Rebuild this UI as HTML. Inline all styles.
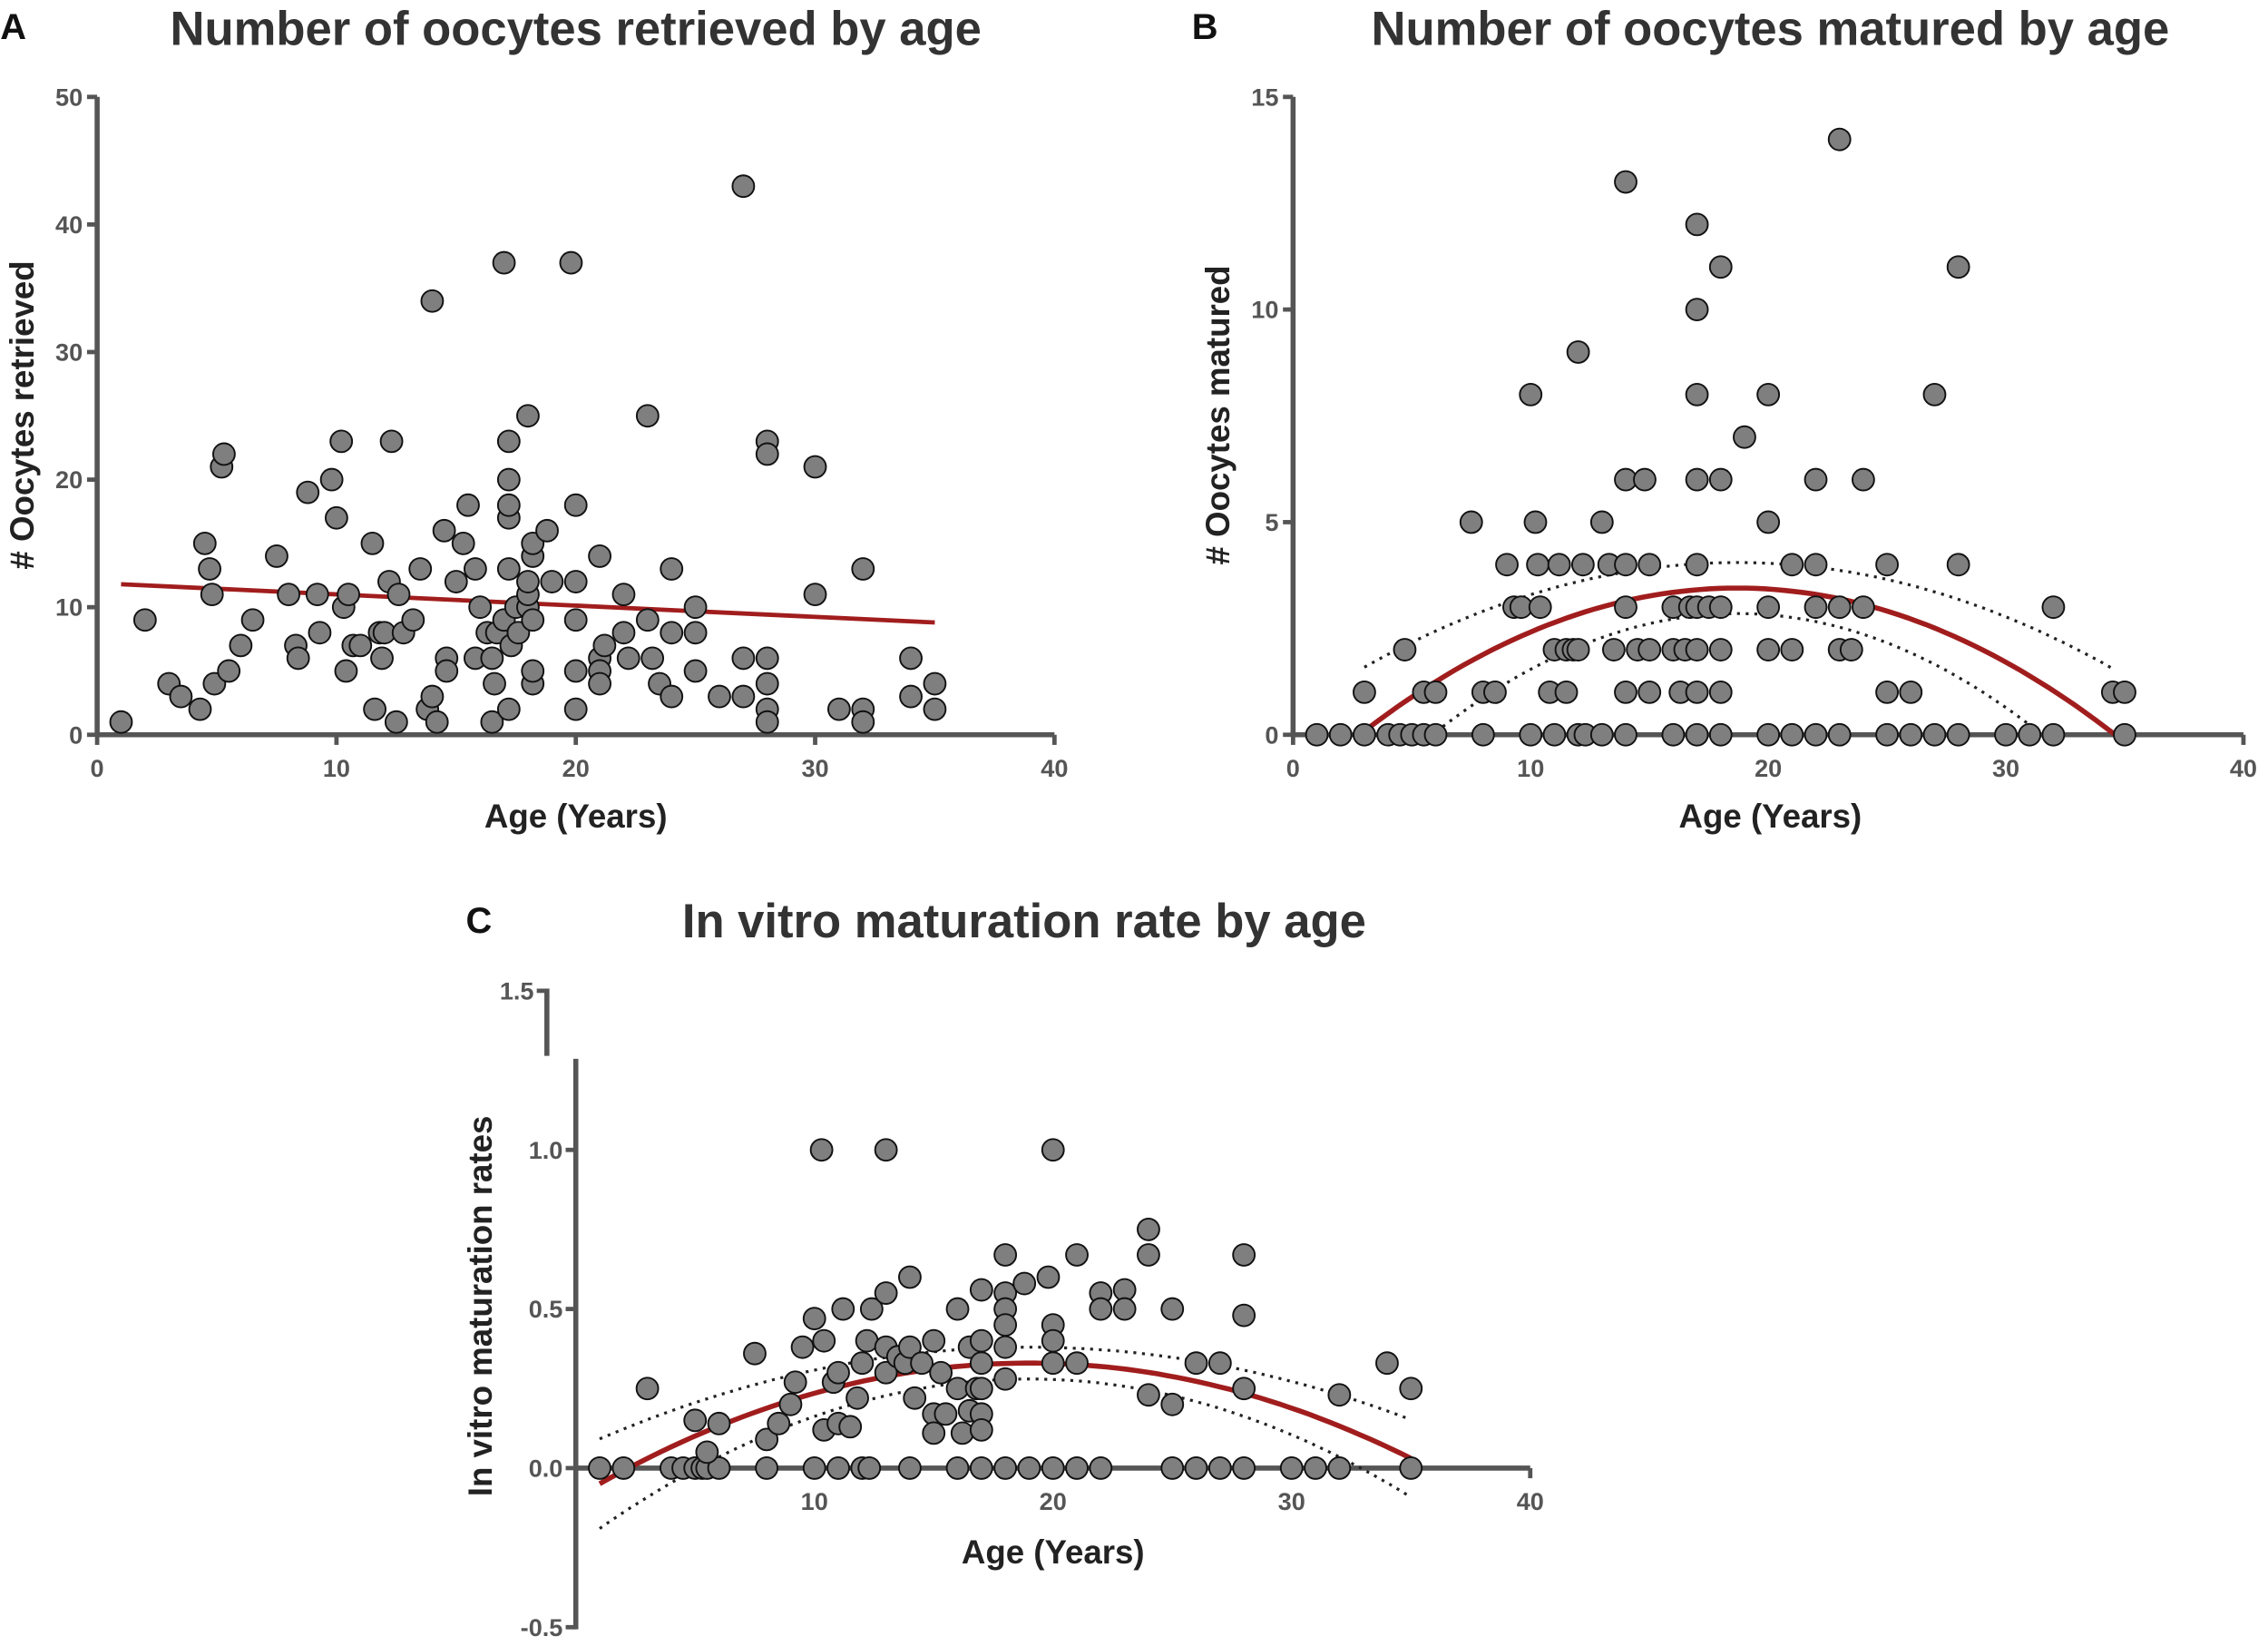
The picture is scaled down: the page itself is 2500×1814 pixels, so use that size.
<!DOCTYPE html>
<html><head><meta charset="utf-8"><style>
html,body{margin:0;padding:0;background:#fff;}
svg{display:block;font-family:"Liberation Sans",sans-serif;}
.tick{font-size:17px;font-weight:bold;fill:#555;}
.title{font-size:33px;font-weight:bold;fill:#333;}
.lab{font-size:23px;font-weight:bold;fill:#222;}
.letter{font-size:25px;font-weight:bold;fill:#111;}
</style></head><body>
<svg id="chart" width="2500" height="1814" viewBox="0 0 1568 1138" xmlns="http://www.w3.org/2000/svg">
<rect width="1568" height="1138" fill="#fff"/>
<g id="A"></g><g id="B"></g><g id="C"></g>
</svg>
<script>
// Panel A data
const ageA=[1,2,3,3.5,4.3,4.5,4.7,4.8,4.9,5.2,5.3,5.5,6,6.5,7.5,8,8.3,8.4,8.8,9.2,9.3,9.8,10,10.2,10.3,10.4,10.5,10.7,11,11.5,11.6,11.8,11.9,12,12.2,12.3,12.5,12.6,12.8,13.2,13.5,13.8,14,14.2,14,14.5,14.6,14.6,15,15.3,15.5,15.8,15.8,16,16.3,16.5,16.5,16.6,16.7,17,17.2,17.2,17.2,17.2,17,17.2,17.3,17.2,17.5,17.6,18,18,18,18.2,18,18.2,18.2,18.2,18.2,18.8,19,19.8,20,20,20,20,20,21,21,21,21.2,21,22,22,22.2,23,23,23.2,23.5,24,24,24,25,25,25,26,27,27,27,28,28,28,28,28,28,30,30,31,32,32,32,34,34,35,35];
const retrieved=[1,9,4,3,2,15,13,11,4,21,22,5,7,9,14,11,7,6,19,11,8,20,17,23,10,5,11,7,7,15,2,8,6,8,12,23,1,11,8,9,13,2,3,1,34,16,6,5,12,15,18,6,13,10,8,6,1,4,8,9,17,18,20,23,37,2,7,13,10,8,10,11,12,14,25,9,15,4,5,16,12,37,18,12,9,5,2,14,6,5,7,4,11,8,6,25,9,6,4,13,8,3,10,8,5,3,43,6,3,23,22,6,4,2,1,21,11,2,13,2,1,6,3,4,2];
const trendA=[[1,11.8],[35,8.8]];
// Panel B data
const ageB=[1,2,3,4,4.5,5,5.5,6,8,10,11,12,12.3,13,14,16,17,18,20,21,22,23,25,26,27,28,30,31,32,35,
3,4.7,5.5,6,7.5,8,8.5,9,9.3,9.6,10,10.2,10.3,10.4,10.8,11,11.2,11.5,11.5,11.8,12,12,12.2,13,13.3,13.5,14,14,14,14,14,14.5,14.8,15,15,15,16,16,16.3,16.5,16.7,17,17,17,17,17,17,17,17,17.5,18,18,18,18,18,19,20,20,20,20,21,21,22,22,22,23,23,23,23.5,24,24,25,25,26,27,28,28,32,34.5,35];
const matured=[0,0,0,0,0,0,0,0,0,0,0,0,0,0,0,0,0,0,0,0,0,0,0,0,0,0,0,0,0,0,
1,2,1,1,5,1,1,4,3,3,8,5,4,3,1,2,4,2,1,2,9,2,4,5,4,2,13,6,4,3,1,2,6,4,1,2,3,2,1,2,3,12,10,8,6,4,3,2,1,3,11,6,3,2,1,7,8,5,3,2,4,2,6,4,3,14,3,2,2,6,3,4,1,1,8,11,4,3,1,1];
const fitB=[3.45,18.7,0.01365];
const ciB=[0.6,0.00366];
// Panel C data
const ageC=[1,2,4,4.5,5,5.3,5.5,6,8,10,11,12,12.3,14,16,17,18,19,20,21,22,25,26,27,28,30,31,32,35,
3,5,5.5,6,7.5,8,8.5,9,9.2,9.5,10,10.3,10.4,10.4,10.8,11,11,11.2,11.5,11.8,12,12.2,12.4,13,13,13,13,13.5,13.8,14,14,14.2,14.5,15,15,15,15.3,15.5,16,16,16.2,16.5,16.5,16.8,17,17,17,17,17,17,18,18,18,18,18,18,18.8,19.8,20,20,20,20,21,21,22,22,23,23,24,24,24,25,25,26,27,28,28,28,32,34,35];
const rate=[0,0,0,0,0,0,0,0,0,0,0,0,0,0,0,0,0,0,0,0,0,0,0,0,0,0,0,0,0,
0.25,0.15,0.05,0.14,0.36,0.09,0.14,0.2,0.27,0.38,0.47,1.0,0.4,0.12,0.27,0.14,0.3,0.5,0.13,0.22,0.33,0.4,0.5,0.3,1.0,0.55,0.38,0.35,0.33,0.6,0.38,0.22,0.33,0.4,0.17,0.11,0.3,0.17,0.5,0.25,0.11,0.38,0.18,0.25,0.56,0.33,0.25,0.17,0.12,0.4,0.67,0.55,0.5,0.45,0.38,0.28,0.58,0.6,1.0,0.45,0.4,0.33,0.67,0.33,0.55,0.5,0.56,0.5,0.75,0.67,0.23,0.5,0.2,0.33,0.33,0.67,0.48,0.25,0.23,0.33,0.25];
const fitC=[0.33,19,0.00117];
const ciC=[0.05,0.00028];
const xTicks=[0,10,20,30,40];
const yTicksA=[0,10,20,30,40,50];
const yTicksB=[0,5,10,15];
const yTicksC=[-0.5,0.0,0.5,1.0,1.5];
const yTickLabC=["-0.5","0.0","0.5","1.0","1.5"];

const NS="http://www.w3.org/2000/svg";
function mk(p,tag,attrs,txt){const e=document.createElementNS(NS,tag);for(const k in attrs)e.setAttribute(k,attrs[k]);if(txt!==undefined)e.textContent=txt;p.appendChild(e);return e;}
const AX="#555";

function axes(g,sx,sy,x0,x1,y0,y1,yt,ylab,opts){
  const xa=mk(g,'line',{x1:sx(x0),x2:sx(x1),y1:sy(0),y2:sy(0),stroke:AX,'stroke-width':3.5});
  
  xTicks.forEach(v=>{mk(g,'line',{x1:sx(v),x2:sx(v),y1:sy(0),y2:sy(0)+7,stroke:AX,'stroke-width':3});
    if(opts&&opts.noZero&&v===0)return;
    const t=mk(g,'text',{x:sx(v),y:sy(0)+29,'text-anchor':'middle',class:'tick'},String(v));
    });
  if(opts&&opts.broken){
    mk(g,'line',{x1:opts.topX,x2:opts.topX,y1:sy(y1)-1.5,y2:opts.breakY,stroke:AX,'stroke-width':3.5});
    const ya=mk(g,'line',{x1:sx(x0),x2:sx(x0),y1:opts.breakY+2,y2:sy(y0)+1.5,stroke:AX,'stroke-width':3.5});
    
    yt.forEach((v,i)=>{const ax=(sy(v)<opts.breakY)?opts.topX:sx(x0);
      mk(g,'line',{x1:ax-7,x2:ax,y1:sy(v),y2:sy(v),stroke:AX,'stroke-width':3});
      const t=mk(g,'text',{x:ax-9,y:sy(v)+6,'text-anchor':'end',class:'tick'},yTickLabC[i]);
      });
  } else {
    const ya=mk(g,'line',{x1:sx(x0),x2:sx(x0),y1:sy(y1),y2:sy(y0),stroke:AX,'stroke-width':3.5});
    
    yt.forEach(v=>{mk(g,'line',{x1:sx(x0)-7,x2:sx(x0),y1:sy(v),y2:sy(v),stroke:AX,'stroke-width':3});
      const t=mk(g,'text',{x:sx(x0)-10,y:sy(v)+6,'text-anchor':'end',class:'tick'},String(v));
      });
  }
}
function pts(g,sx,sy,xs,ys){xs.forEach((x,i)=>{const c=mk(g,'circle',{cx:sx(x),cy:sy(ys[i]),r:7.5,fill:'#7f7f7f',stroke:'#111','stroke-width':1.2});
  });}
function curve(g,sx,sy,f,a,b,attrs,name,clip){let d='';for(let i=0;i<=80;i++){const x=a+(b-a)*i/80;let y=f(x);if(clip!==undefined&&y<clip){continue;}d+=(d?'L':'M')+sx(x).toFixed(1)+','+sy(y).toFixed(1);}
  const p=mk(g,'path',Object.assign({d:d,fill:'none'},attrs));}
function text(g,x,y,cls,s,name,extra){const t=mk(g,'text',Object.assign({x:x,y:y,class:cls},extra||{}),s);return t;}

// Panel A
(function(){const g=document.getElementById('A');
const sx=v=>67+v*16.55, sy=v=>508-v*8.82;
axes(g,sx,sy,0,40,0,50,yTicksA);
const l=mk(g,'line',{x1:sx(trendA[0][0]),y1:sy(trendA[0][1]),x2:sx(trendA[1][0]),y2:sy(trendA[1][1]),stroke:'#a11d1d','stroke-width':3});

pts(g,sx,sy,ageA,retrieved);
text(g,398,31,'title','Number of oocytes retrieved by age','chart-title-a',{'text-anchor':'middle'});
text(g,0,27,'letter','A','panel-letter-a');
text(g,398,572,'lab','Age (Years)','x-axis-title-a',{'text-anchor':'middle'});
text(g,23,287,'lab','# Oocytes retrieved','y-axis-title-a',{'text-anchor':'middle',transform:'rotate(-90 23 287)'});
})();
// Panel B
(function(){const g=document.getElementById('B');
const sx=v=>894+v*16.43, sy=v=>508-v*29.4;
axes(g,sx,sy,0,40,0,15,yTicksB);
const f=x=>fitB[0]-fitB[2]*(x-fitB[1])**2, w=x=>ciB[0]+ciB[1]*(x-fitB[1])**2;
curve(g,sx,sy,x=>f(x)+w(x),3,34.5,{stroke:'#222','stroke-width':2,'stroke-dasharray':'2,4'},'upper-ci');
curve(g,sx,sy,x=>f(x)-w(x),5,32,{stroke:'#222','stroke-width':2,'stroke-dasharray':'2,4'},'lower-ci',0);
curve(g,sx,sy,f,2.8,34.6,{stroke:'#a11d1d','stroke-width':3.5},'fit-curve');
pts(g,sx,sy,ageB,matured);
text(g,1224,31,'title','Number of oocytes matured by age','chart-title-b',{'text-anchor':'middle'});
text(g,824,27,'letter','B','panel-letter-b');
text(g,1224,572,'lab','Age (Years)','x-axis-title-b',{'text-anchor':'middle'});
text(g,850,287,'lab','# Oocytes matured','y-axis-title-b',{'text-anchor':'middle',transform:'rotate(-90 850 287)'});
})();
// Panel C
(function(){const g=document.getElementById('C');
const sx=v=>398+v*16.5, sy=v=>1015-v*220;
axes(g,sx,sy,0,40,-0.5,1.5,yTicksC,null,{broken:true,topX:378,breakY:730,noZero:true});
const f=x=>fitC[0]-fitC[2]*(x-fitC[1])**2, w=x=>ciC[0]+ciC[1]*(x-fitC[1])**2;
curve(g,sx,sy,x=>f(x)+w(x),1,35,{stroke:'#222','stroke-width':2,'stroke-dasharray':'2,4'},'upper-ci');
curve(g,sx,sy,x=>f(x)-w(x),1,35,{stroke:'#222','stroke-width':2,'stroke-dasharray':'2,4'},'lower-ci');
curve(g,sx,sy,f,1,35,{stroke:'#a11d1d','stroke-width':3.5},'fit-curve');
pts(g,sx,sy,ageC,rate);
text(g,708,648,'title','In vitro maturation rate by age','chart-title-c',{'text-anchor':'middle'});
text(g,322,645,'letter','C','panel-letter-c');
text(g,728,1081,'lab','Age (Years)','x-axis-title-c',{'text-anchor':'middle'});
text(g,340,903,'lab','In vitro maturation rates','y-axis-title-c',{'text-anchor':'middle',transform:'rotate(-90 340 903)'});
})();
</script>
</body></html>
